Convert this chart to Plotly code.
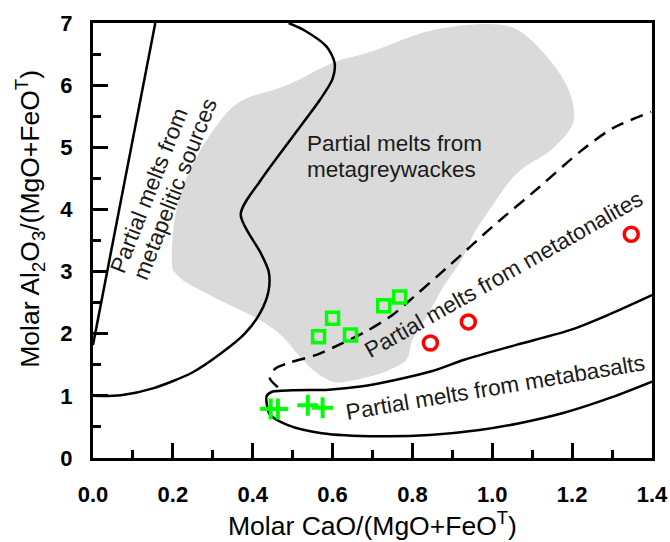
import plotly.graph_objects as go

# Sample compositions
sq_x = [0.565, 0.600, 0.645, 0.728, 0.768]
sq_y = [1.95, 2.25, 1.98, 2.45, 2.59]

circ_x = [0.845, 0.940, 1.348]
circ_y = [1.85, 2.19, 3.60]

cross_x = [0.445, 0.463, 0.538, 0.575]
cross_y = [0.79, 0.79, 0.85, 0.81]

# Field boundaries
grey_x = [0.200, 0.200, 0.218, 0.250, 0.293, 0.350, 0.393, 0.475, 0.605, 0.688,
          0.855, 1.005, 1.063, 1.138, 1.188, 1.205, 1.198, 1.148, 1.063, 0.998,
          0.955, 0.923, 0.880, 0.835, 0.800, 0.785, 0.743, 0.710, 0.643, 0.605,
          0.560, 0.518, 0.475, 0.418, 0.318, 0.225, 0.205, 0.200]
grey_y = [3.03, 3.62, 4.23, 4.72, 5.20, 5.65, 5.81, 5.97, 6.37, 6.52,
          6.89, 6.98, 6.89, 6.45, 5.97, 5.55, 5.33, 4.96, 4.59, 4.04,
          3.62, 3.19, 2.78, 2.27, 1.90, 1.58, 1.42, 1.34, 1.24, 1.22,
          1.37, 1.63, 1.95, 2.22, 2.54, 2.86, 2.99, 3.03]

pel_line_x = [0.0, 0.156]
pel_line_y = [1.82, 7.0]

pel_curve_x = [0.0, 0.07, 0.15, 0.25, 0.32, 0.38, 0.42, 0.44, 0.44, 0.42,
               0.37, 0.42, 0.50, 0.568, 0.60, 0.605, 0.585, 0.53, 0.49]
pel_curve_y = [1.00, 1.01, 1.12, 1.38, 1.68, 2.00, 2.35, 2.70, 3.00, 3.30,
               3.92, 4.47, 5.17, 5.76, 6.10, 6.36, 6.62, 6.88, 7.00]

ton_x = [0.463, 0.443, 0.455, 0.490, 0.560, 0.625, 0.685, 0.750, 0.785,
         0.893, 1.000, 1.118, 1.220, 1.300, 1.398]
ton_y = [1.14, 1.28, 1.43, 1.53, 1.66, 1.85, 2.04, 2.30, 2.49,
         3.10, 3.72, 4.36, 4.93, 5.30, 5.57]

bas_x = [1.400, 1.300, 1.200, 1.060, 0.930, 0.850, 0.760, 0.670, 0.590, 0.500,
         0.450, 0.435, 0.435, 0.443, 0.488, 0.573, 0.718, 0.843, 0.968, 1.068,
         1.175, 1.300, 1.400]
bas_y = [2.62, 2.33, 2.07, 1.82, 1.58, 1.40, 1.26, 1.15, 1.10, 1.09,
         1.07, 1.00, 0.88, 0.70, 0.53, 0.40, 0.35, 0.37, 0.45, 0.56,
         0.72, 0.98, 1.23]

x_ticks = [0.0, 0.2, 0.4, 0.6, 0.8, 1.0, 1.2, 1.4]
y_ticks = [0, 1, 2, 3, 4, 5, 6, 7]

FONT = "Liberation Sans, Arial, sans-serif"
GREEN = "#00ff00"
RED = "#ff0000"

fig = go.Figure()

fig.add_trace(go.Scatter(x=grey_x, y=grey_y, mode="lines", fill="toself",
                         fillcolor="#dadada", line=dict(width=0, shape="spline"),
                         hoverinfo="skip"))
fig.add_trace(go.Scatter(x=pel_line_x, y=pel_line_y, mode="lines",
                         line=dict(color="black", width=2.5)))
fig.add_trace(go.Scatter(x=pel_curve_x, y=pel_curve_y, mode="lines",
                         line=dict(color="black", width=2.5, shape="spline", smoothing=0.8)))
fig.add_trace(go.Scatter(x=ton_x, y=ton_y, mode="lines",
                         line=dict(color="black", width=2.5, dash="13px,8px",
                                   shape="spline", smoothing=0.8)))
fig.add_trace(go.Scatter(x=bas_x, y=bas_y, mode="lines",
                         line=dict(color="black", width=2.5, shape="spline", smoothing=0.8)))

fig.add_trace(go.Scatter(x=sq_x, y=sq_y, mode="markers",
                         marker=dict(symbol="square-open", size=12, color=GREEN,
                                     line=dict(width=3.5, color=GREEN))))
fig.add_trace(go.Scatter(x=circ_x, y=circ_y, mode="markers",
                         marker=dict(symbol="circle-open", size=14, color=RED,
                                     line=dict(width=3.5, color=RED))))
fig.add_trace(go.Scatter(x=cross_x, y=cross_y, mode="markers",
                         marker=dict(symbol="cross-thin-open", size=15, color=GREEN,
                                     line=dict(width=4, color=GREEN))))

ann_font = dict(family=FONT, size=22.5, color="#1a1a1a")
annotations = [
    dict(x=0.532, y=5.06, text="Partial melts from", xanchor="left", yanchor="middle"),
    dict(x=0.532, y=4.64, text="metagreywackes", xanchor="left", yanchor="middle"),
    dict(x=0.141, y=4.30, text="Partial melts from", textangle=-68.5),
    dict(x=0.207, y=4.33, text="metapelitic sources", textangle=-68.5),
    dict(x=1.028, y=2.96, text="Partial melts from metatonalites", textangle=-29.5),
    dict(x=1.008, y=1.14, text="Partial melts from metabasalts", textangle=-9.5),
]
for a in annotations:
    a.update(xref="x", yref="y", showarrow=False, font=ann_font)

title_font = dict(family=FONT, size=26.5, color="black")

# Axis titles as annotations anchored to the plotting area
annotations.append(dict(
    xref="paper", yref="paper", x=0, y=0.55, xanchor="center", yanchor="middle",
    xshift=-63, showarrow=False, textangle=-90,
    text="Molar Al<sub>2</sub>O<sub>3</sub>/(MgO+FeO<sup>T</sup>)",
    font=title_font,
))
annotations.append(dict(
    xref="paper", yref="paper", x=0.5, y=0, xanchor="center", yanchor="middle",
    yshift=-66, showarrow=False,
    text="Molar CaO/(MgO+FeO<sup>T</sup>)",
    font=title_font,
))

axis_common = dict(
    showline=True, linewidth=3, linecolor="black", mirror=True,
    ticks="inside", ticklen=15, tickwidth=2.5, tickcolor="black",
    showgrid=False, zeroline=False, automargin=False,
    tickfont=dict(family=FONT, size=22, color="black", weight="bold"),
)

fig.update_layout(
    width=670, height=542,
    margin=dict(l=93, r=18, t=23, b=84),
    paper_bgcolor="white", plot_bgcolor="white",
    showlegend=False,
    annotations=annotations,
    xaxis=dict(range=[0, 1.4], tickvals=x_ticks,
               ticktext=[f"{v:.1f}" for v in x_ticks],
               minor=dict(dtick=0.1, ticks="inside", ticklen=8, tickwidth=2.5,
                          tickcolor="black"),
               ticklabelstandoff=15,
               **axis_common),
    yaxis=dict(range=[0, 7], tickvals=y_ticks,
               ticktext=[str(v) for v in y_ticks],
               minor=dict(dtick=0.5, ticks="inside", ticklen=8, tickwidth=2.5,
                          tickcolor="black"),
               ticklabelstandoff=13,
               **axis_common),
)

fig.write_html("out.html")
